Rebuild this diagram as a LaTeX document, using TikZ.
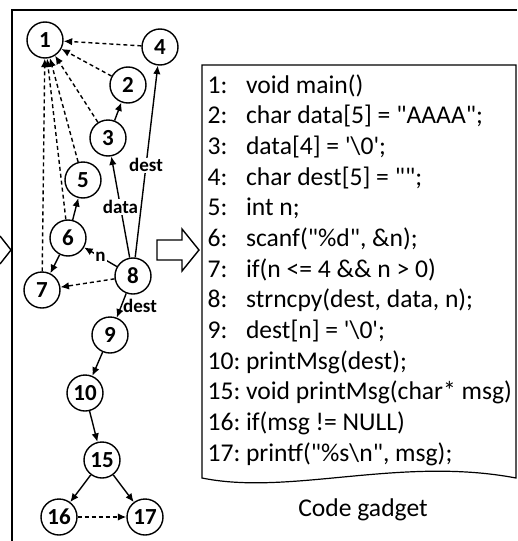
\documentclass[tikz,border=0pt]{standalone}
\usepackage{fontspec}
\setmainfont{Carlito}[Ligatures=TeXOff]
\usetikzlibrary{arrows.meta}

\begin{document}
\begin{tikzpicture}[x=1pt, y=-1pt, line width=1.4pt,
vertex/.style={shape=circle, draw, minimum size=36pt, inner sep=0pt, font=\bfseries\fontsize{23}{23}\selectfont},
flow/.style={draw, -{Latex[length=8.5pt, width=7.5pt]}},
dep/.style={flow, dash pattern=on 4pt off 3pt},
lbl/.style={fill=white, inner sep=1pt, font=\bfseries\fontsize{19}{19}\selectfont}]
\useasboundingbox (0,0) rectangle (517,541);
% frame and arrows
\draw (12,541) -- (12,10) -- (517,10);
\draw (0,236) -- (11,250) -- (0,264);
\draw (157,240) -- (182,240) -- (182,229) -- (199,250) -- (182,271) -- (182,260) -- (157,260) -- cycle;
% graph
\node[vertex] (n1) at (45,40) {1};
\node[vertex] (n4) at (160,47) {4};
\node[vertex] (n2) at (128,85) {2};
\node[vertex] (n3) at (108,138) {3};
\node[vertex] (n5) at (83,180) {5};
\node[vertex] (n6) at (68,238) {6};
\node[vertex] (n7) at (42,290) {7};
\node[vertex] (n8) at (133,276) {8};
\node[vertex] (n9) at (110,335) {9};
\node[vertex] (n10) at (85,393) {10};
\node[vertex] (n15) at (102,460) {15};
\node[vertex] (n16) at (59,517) {16};
\node[vertex] (n17) at (145,517) {17};
\path[dep] (n4) -- (n1);
\path[dep] (n2) -- (n1);
\path[dep] (n3) -- (n1);
\path[dep] (n5) -- (n1);
\path[dep] (n6) -- (n1);
\path[dep] (n7) -- (n1);
\path[flow] (n3) -- (n2);
\path[flow] (n6) -- (n5);
\path[flow] (n6) -- (n7);
\path[flow] (n8) -- node[lbl]{n} (n6);
\path[flow] (n8) -- node[lbl, pos=.5]{data} (n3);
\path[flow] (n8) -- node[lbl, pos=.48]{dest} (n4);
\path[dep] (n8) -- (n7);
\path[flow] (n8) -- node[lbl, right, fill=none]{dest} (n9);
\path[flow] (n9) -- (n10);
\path[flow] (n10) -- (n15);
\path[flow] (n15) -- (n16);
\path[flow] (n15) -- (n17);
\path[dep] (n16) -- (n17);
% code gadget
\draw[line width=1.2pt] (202,478) -- (202,65) -- (516,65) -- (516,478) .. controls (400,456) and (290,496) .. (202,478) -- cycle;
\node[anchor=base west, inner sep=0pt, font=\fontsize{25.6}{30.67}\selectfont] (gadget) at (207,93)
{\begin{tabular}[t]{@{}l@{\hspace{5.5pt}}l@{}}
1: & void main()\\
2: & char data[5] = "AAAA";\\
3: & data[4] = '\textbackslash 0';\\
4: & char dest[5] = "";\\
5: & int n;\\
6: & scanf("\%d", \&n);\\
7: & if(n <= 4 \&\& n > 0)\\
8: & strncpy(dest, data, n);\\
9: & dest[n] = '\textbackslash 0';\\
10: & printMsg(dest);\\
15: & void printMsg(char* msg)\\
16: & if(msg != NULL)\\
17: & printf("\%s\textbackslash n", msg);
\end{tabular}};
\node[font=\fontsize{25.6}{30}\selectfont] (caption) at (363,510) {Code gadget};
\end{tikzpicture}
\end{document}
